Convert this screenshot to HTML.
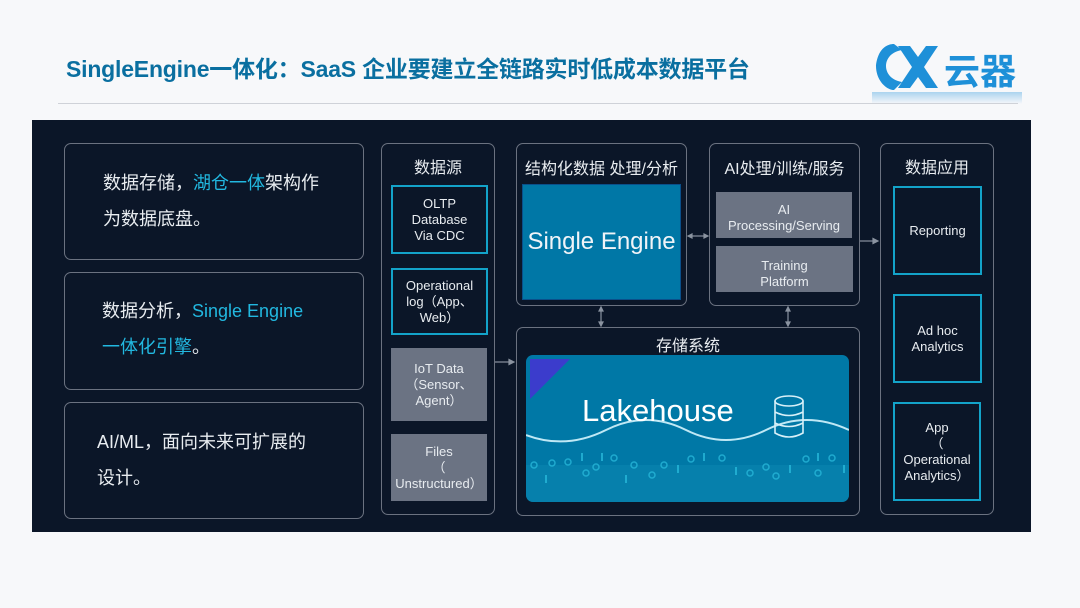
<!DOCTYPE html>
<html><head><meta charset="utf-8"><style>
body{margin:0;width:1080px;height:608px;background:#f7f8fa;position:relative;overflow:hidden;font-family:"Liberation Sans","Noto Sans CJK SC",sans-serif;}
.a{position:absolute;box-sizing:border-box;}
.t{color:#e8ecf0;text-align:center;}
.rb{border:1.5px solid #6b7280;border-radius:7px;}
.cb{border:2px solid #13a3c9;display:flex;align-items:center;justify-content:center;text-align:center;color:#e8ecf0;font-size:13px;line-height:16px;}
.gb{background:#6b7383;display:flex;align-items:center;justify-content:center;text-align:center;color:#e8ecf0;font-size:13px;line-height:16px;}
.lt{color:#e8ecf0;font-size:18px;line-height:36px;}
.hl{color:#22b8e0;}
</style></head><body>
<div class="a" style="left:66px;top:50px;font-size:23px;font-weight:bold;color:#0a6fa0;letter-spacing:-0.2px;">SingleEngine一体化：SaaS 企业要建立全链路实时低成本数据平台</div>
<svg class="a" style="left:872px;top:40px" width="150" height="64">
<defs><linearGradient id="fd" x1="0" y1="0" x2="0" y2="1"><stop offset="0" stop-color="#1e90d8" stop-opacity="0.35"/><stop offset="1" stop-color="#1e90d8" stop-opacity="0"/></linearGradient></defs>
<g fill="#1e90d8">
<path d="M22 4 C6 4 4 24 4 26 C4 40 14 50 22 50 L30 42 C18 40 14 32 14 26 C14 20 18 12 30 10 Z"/>
<path d="M26 6 L38 6 L46 17 L54 6 L66 6 L52 27 L66 48 L54 48 L46 37 L38 48 L26 48 L40 27 Z"/>
<text x="72" y="44" font-size="36" font-weight="bold" font-family="Noto Sans CJK SC,sans-serif">云器</text>
</g>
<rect x="0" y="52" width="150" height="12" fill="url(#fd)"/>
</svg>
<div class="a" style="left:58px;top:103px;width:960px;height:1px;background:#cfd2d8"></div>
<div class="a" style="left:32px;top:120px;width:999px;height:412px;background:#0b1628"></div>

<div class="a rb" style="left:64px;top:143px;width:300px;height:117px"></div>
<div class="a lt" style="left:103px;top:165px">数据存储，<span class="hl">湖仓一体</span>架构作<br>为数据底盘。</div>
<div class="a rb" style="left:64px;top:272px;width:300px;height:118px"></div>
<div class="a lt" style="left:102px;top:293px">数据分析，<span class="hl">Single Engine<br>一体化引擎</span>。</div>
<div class="a rb" style="left:64px;top:402px;width:300px;height:117px"></div>
<div class="a lt" style="left:97px;top:424px">AI/ML，面向未来可扩展的<br>设计。</div>

<div class="a rb" style="left:381px;top:143px;width:114px;height:372px"></div>
<div class="a t" style="left:381px;top:154px;width:114px;font-size:16px">数据源</div>
<div class="a cb" style="left:391px;top:185px;width:97px;height:69px">OLTP<br>Database<br>Via CDC</div>
<div class="a cb" style="left:391px;top:268px;width:97px;height:67px">Operational<br>log（App、<br>Web）</div>
<div class="a gb" style="left:391px;top:348px;width:96px;height:73px">IoT Data<br>（Sensor、<br>Agent）</div>
<div class="a gb" style="left:391px;top:434px;width:96px;height:67px">Files<br>（<br>Unstructured）</div>

<div class="a rb" style="left:516px;top:143px;width:171px;height:163px"></div>
<div class="a t" style="left:516px;top:155px;width:171px;font-size:16px">结构化数据 处理/分析</div>
<div class="a" style="left:522px;top:184px;width:159px;height:116px;background:#0077a6;border:1.5px solid #0a4f8a;color:#f0f4f8;font-size:24px;display:flex;align-items:center;justify-content:center;">Single Engine</div>

<div class="a rb" style="left:709px;top:143px;width:151px;height:163px"></div>
<div class="a t" style="left:709px;top:155px;width:151px;font-size:16px">AI处理/训练/服务</div>
<div class="a gb" style="left:716px;top:192px;width:136px;height:46px;padding-top:6px">AI<br>Processing/Serving</div>
<div class="a gb" style="left:716px;top:246px;width:137px;height:46px;padding-top:10px">Training<br>Platform</div>

<div class="a rb" style="left:516px;top:327px;width:344px;height:189px"></div>
<div class="a t" style="left:516px;top:332px;width:344px;font-size:16px">存储系统</div>
<div class="a" style="left:526px;top:355px;width:323px;height:147px;background:#0078a6;border-radius:7px;overflow:hidden">
<svg width="323" height="147" style="position:absolute;left:0;top:0">
<polygon points="4,4 44,4 4,44" fill="#3b3ccc"/>
<rect x="0" y="110" width="323" height="37" fill="#0a86b0" opacity="0.6"/>
<path d="M0 80 Q40 95 80 75 T160 75 T240 75 T323 75" stroke="#bfe8f5" stroke-width="2" fill="none"/>
<g fill="none" stroke="#27b7da" stroke-width="1.5" opacity="0.8">
<circle cx="8" cy="110" r="3"/><circle cx="26" cy="108" r="3"/><circle cx="42" cy="107" r="3"/><circle cx="70" cy="112" r="3"/><circle cx="88" cy="103" r="3"/><circle cx="108" cy="110" r="3"/><circle cx="138" cy="110" r="3"/><circle cx="165" cy="104" r="3"/><circle cx="196" cy="103" r="3"/><circle cx="240" cy="112" r="3"/><circle cx="280" cy="104" r="3"/><circle cx="306" cy="103" r="3"/><circle cx="292" cy="118" r="3"/><circle cx="224" cy="118" r="3"/><circle cx="250" cy="121" r="3"/><circle cx="126" cy="120" r="3"/><circle cx="60" cy="118" r="3"/>
</g>
<g stroke="#27b7da" stroke-width="2" opacity="0.8">
<line x1="56" y1="98" x2="56" y2="106"/><line x1="76" y1="98" x2="76" y2="106"/><line x1="152" y1="110" x2="152" y2="118"/><line x1="178" y1="98" x2="178" y2="106"/><line x1="210" y1="112" x2="210" y2="120"/><line x1="264" y1="110" x2="264" y2="118"/><line x1="292" y1="98" x2="292" y2="106"/><line x1="20" y1="120" x2="20" y2="128"/><line x1="100" y1="120" x2="100" y2="128"/><line x1="318" y1="110" x2="318" y2="118"/>
</g>
<g fill="none" stroke="#d8f0f8" stroke-width="1.6">
<ellipse cx="263" cy="46" rx="14" ry="5"/><path d="M249 46 V78 Q263 86 277 78 V46 M249 57 Q263 64 277 57 M249 68 Q263 75 277 68"/>
</g>
</svg>
<div class="a" style="left:56px;top:38px;font-size:31px;color:#fff">Lakehouse</div>
</div>

<div class="a rb" style="left:880px;top:143px;width:114px;height:372px"></div>
<div class="a t" style="left:880px;top:154px;width:114px;font-size:16px">数据应用</div>
<div class="a cb" style="left:893px;top:186px;width:89px;height:89px">Reporting</div>
<div class="a cb" style="left:893px;top:294px;width:89px;height:89px">Ad hoc<br>Analytics</div>
<div class="a cb" style="left:893px;top:402px;width:88px;height:99px">App<br>（<br>Operational<br>Analytics）</div>

<svg class="a" style="left:0;top:0" width="1080" height="608">
<g stroke="#8a93a0" stroke-width="1.2" fill="#8a93a0">
<line x1="495" y1="362" x2="510" y2="362"/><polygon points="514,362 509,359.5 509,364.5"/>
<line x1="860" y1="241" x2="874" y2="241"/><polygon points="878,241 873,238.5 873,243.5"/>
<line x1="690" y1="236" x2="706" y2="236"/><polygon points="688,236 692,234 692,238"/><polygon points="708,236 704,234 704,238"/>
<line x1="601" y1="309" x2="601" y2="324"/><polygon points="601,307 599,311 603,311"/><polygon points="601,326 599,322 603,322"/>
<line x1="788" y1="309" x2="788" y2="324"/><polygon points="788,307 786,311 790,311"/><polygon points="788,326 786,322 790,322"/>
</g></svg>
</body></html>
